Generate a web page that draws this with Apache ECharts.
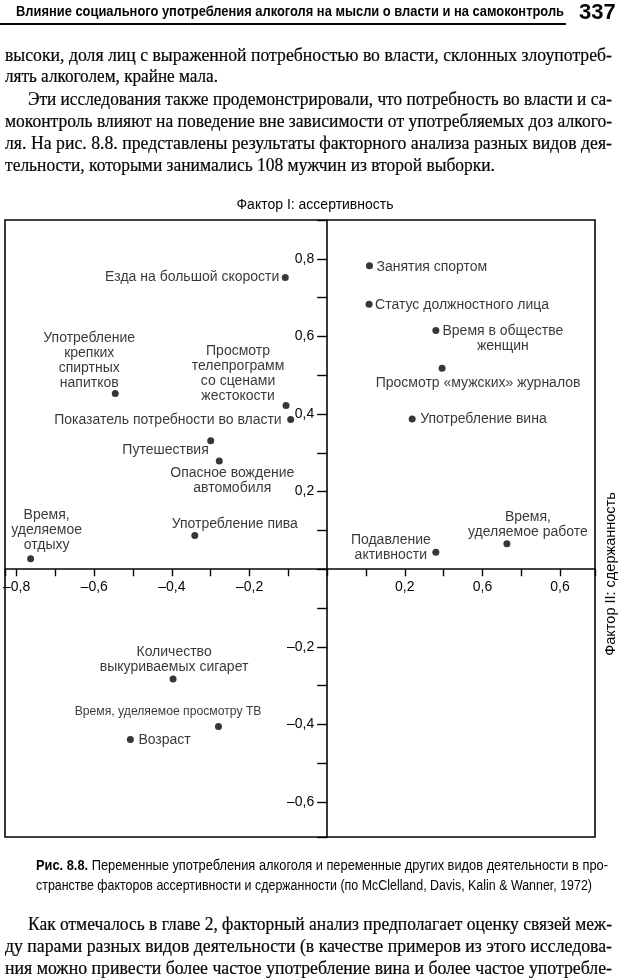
<!DOCTYPE html>
<html>
<head>
<meta charset="utf-8">
<script src="https://cdn.jsdelivr.net/npm/echarts@6/dist/echarts.min.js"></script>
<style>
html,body{margin:0;padding:0;background:#fff;}
body{width:620px;height:978px;position:relative;overflow:hidden;color:#050505;}
#chart{position:absolute;left:0;top:0;width:620px;height:978px;}
.ln{position:absolute;white-space:nowrap;}
.serif{font-family:"Liberation Serif","DejaVu Serif",serif;font-size:18px;line-height:22px;-webkit-text-stroke:0.2px #050505;}
.hdr{font-family:"Liberation Sans Narrow","Liberation Sans",sans-serif;font-size:15px;line-height:18px;font-weight:bold;}
.cap{font-family:"Liberation Sans Narrow","Liberation Sans",sans-serif;font-size:14px;line-height:17px;}
.pg{position:absolute;font-family:"Liberation Sans","Arial",sans-serif;font-weight:bold;font-size:22px;line-height:24px;}
.rule{position:absolute;background:#050505;}
</style>
</head>
<body>
<div id="chart"></div>

<div class="ln hdr" data-w="548" style="left:16px;top:2px"><span class="in">Влияние социального употребления алкоголя на мысли о власти и на самоконтроль</span></div>
<div class="pg" style="left:579px;top:0px">337</div>
<div class="rule" style="left:0;top:23px;width:566px;height:1.5px"></div>

<div class="ln serif j" data-w="607" style="left:5px;top:44px"><span class="in">высоки, доля лиц с выраженной потребностью во власти, склонных злоупотреб-</span></div>
<div class="ln serif" data-w="213" style="left:5px;top:65px"><span class="in">лять алкоголем, крайне мала.</span></div>
<div class="ln serif j" data-w="584" style="left:28px;top:88px"><span class="in">Эти исследования также продемонстрировали, что потребность во власти и са-</span></div>
<div class="ln serif j" data-w="607" style="left:5px;top:110px"><span class="in">моконтроль влияют на поведение вне зависимости от употребляемых доз алкого-</span></div>
<div class="ln serif j" data-w="607" style="left:5px;top:132px"><span class="in">ля. На рис. 8.8. представлены результаты факторного анализа разных видов дея-</span></div>
<div class="ln serif" data-w="490" style="left:5px;top:154px"><span class="in">тельности, которыми занимались 108 мужчин из второй выборки.</span></div>

<div class="ln cap j" data-w="572" style="left:36px;top:857px"><span class="in"><b>Рис. 8.8.</b> Переменные употребления алкоголя и переменные других видов деятельности в про-</span></div>
<div class="ln cap" data-w="556" style="left:36px;top:877px"><span class="in">странстве факторов ассертивности и сдержанности (по McClelland, Davis, Kalin &amp; Wanner, 1972)</span></div>

<div class="ln serif j" data-w="584" style="left:28px;top:913px"><span class="in">Как отмечалось в главе 2, факторный анализ предполагает оценку связей меж-</span></div>
<div class="ln serif j" data-w="607" style="left:5px;top:935px"><span class="in">ду парами разных видов деятельности (в качестве примеров из этого исследова-</span></div>
<div class="ln serif j" data-w="607" style="left:5px;top:957px"><span class="in">ния можно привести более частое употребление вина и более частое употребле-</span></div>

<script>
// ---- data ----
const activityNames = [
  'Езда на большой скорости',
  'Употребление\nкрепких\nспиртных\nнапитков',
  'Просмотр\nтелепрограмм\nсо сценами\nжестокости',
  'Показатель потребности во власти',
  'Путешествия',
  'Опасное вождение\nавтомобиля',
  'Употребление пива',
  'Время,\nуделяемое\nотдыху',
  'Занятия спортом',
  'Статус должностного лица',
  'Время в обществе\nженщин',
  'Просмотр «мужских» журналов',
  'Употребление вина',
  'Подавление\nактивности',
  'Время,\nуделяемое работе',
  'Количество\nвыкуриваемых сигарет',
  'Время, уделяемое просмотру ТВ',
  'Возраст'
];
const factor2Values = [-0.108, -0.546, -0.106, -0.094, -0.300, -0.278, -0.341, -0.764,
                        0.109, 0.108, 0.280, 0.296, 0.219, 0.280, 0.463,
                       -0.397, -0.280, -0.507];
const factor1Values = [0.752, 0.453, 0.422, 0.386, 0.331, 0.279, 0.087, 0.027,
                       0.782, 0.683, 0.615, 0.518, 0.387, 0.044, 0.066,
                      -0.283, -0.405, -0.439];
const xTickValues = [-0.8, -0.6, -0.4, -0.2, 0.2, 0.4, 0.6];
const xTickLabels = ['–0,8', '–0,6', '–0,4', '–0,2', '0,2', '0,6', '0,6'];
const yTickValues = [-0.6, -0.4, -0.2, 0.2, 0.4, 0.6, 0.8];
const yTickLabels = ['–0,6', '–0,4', '–0,2', '0,2', '0,4', '0,6', '0,8'];
const xRange = [-0.83, 0.69];
const yRange = [-0.69, 0.9];
const yAxisTitle = 'Фактор I: ассертивность';
const xAxisTitle = 'Фактор II: сдержанность';

// ---- label placement (style, not data) ----
const labelLayout = [
  {align:'right',  offset:[-6, 0]},
  {align:'center', offset:[-26, -33]},
  {align:'center', offset:[-48, -32]},
  {align:'right',  offset:[-9, 1]},
  {align:'right',  offset:[-2, 9]},
  {align:'center', offset:[13, 20]},
  {align:'center', offset:[40, -11]},
  {align:'center', offset:[16, -29]},
  {align:'left',   offset:[7, 1]},
  {align:'left',   offset:[6, 1]},
  {align:'center', offset:[67, 8]},
  {align:'center', offset:[36, 15]},
  {align:'left',   offset:[8, 0]},
  {align:'center', offset:[-45, -5]},
  {align:'center', offset:[21, -19]},
  {align:'center', offset:[1, -19]},
  {align:'right',  offset:[43, -15], fontSize: 12.2},
  {align:'left',   offset:[8, 1]}
];

const INK = '#050505';
const FONT = '"Liberation Sans", Arial, sans-serif';

function tickFormatter(vals, labels) {
  return function (v) {
    for (let i = 0; i < vals.length; i++) {
      if (Math.abs(vals[i] - v) < 1e-6) return labels[i];
    }
    return '';
  };
}

const scatterData = activityNames.map((n, i) => {
  const lab = { align: labelLayout[i].align, offset: labelLayout[i].offset };
  if (labelLayout[i].fontSize) lab.fontSize = labelLayout[i].fontSize;
  return { name: n, value: [factor2Values[i], factor1Values[i]], label: lab };
});

const chart = echarts.init(document.getElementById('chart'), null, {renderer: 'canvas'});
chart.setOption({
  animation: false,
  backgroundColor: 'transparent',
  grid: {
    left: 5, right: 25, top: 220, bottom: 141,
    show: true, borderColor: INK, borderWidth: 1.6, backgroundColor: 'transparent',
    containLabel: false, outerBoundsMode: 'none'
  },
  xAxis: {
    type: 'value', min: xRange[0], max: xRange[1], position: 'bottom', offset: 0,
    splitNumber: 15, minInterval: 0.1, maxInterval: 0.1,
    axisLine: {onZero: false, lineStyle: {color: INK, width: 1.6}},
    axisTick: {show: true, length: 7, lineStyle: {color: INK, width: 1.4}},
    axisLabel: {formatter: tickFormatter(xTickValues, xTickLabels), margin: 11,
      color: INK, fontSize: 14, fontFamily: FONT},
    splitLine: {show: false}
  },
  yAxis: {
    type: 'value', min: yRange[0], max: yRange[1], position: 'left', offset: 0,
    splitNumber: 16, minInterval: 0.1, maxInterval: 0.1,
    axisLine: {onZero: false, lineStyle: {color: INK, width: 1.6}},
    axisTick: {show: true, length: 10, lineStyle: {color: INK, width: 1.4}},
    axisLabel: {formatter: tickFormatter(yTickValues, yTickLabels), margin: 13,
      color: INK, fontSize: 14, fontFamily: FONT},
    splitLine: {show: false}
  },
  graphic: [
    {type: 'text', x: 315, y: 205, silent: true,
     style: {text: yAxisTitle, fill: INK, font: '14px ' + FONT, textAlign: 'center', textVerticalAlign: 'middle'}},
    {type: 'text', x: 611, y: 574, rotation: Math.PI / 2, silent: true,
     style: {text: xAxisTitle, fill: INK, font: '14.5px ' + FONT, textAlign: 'center', textVerticalAlign: 'middle'}}
  ],
  series: [{
    type: 'scatter',
    symbol: 'circle',
    symbolSize: 7,
    itemStyle: {color: INK},
    label: {
      show: true, position: 'inside', formatter: '{b}',
      color: INK, fontSize: 14, lineHeight: 15, fontFamily: FONT,
      verticalAlign: 'middle', textBorderWidth: 0
    },
    emphasis: {disabled: true},
    data: scatterData
  }]
});

// move both axes (line, ticks, labels) onto the zero crossing, using the library's own scales
const zero = chart.convertToPixel({gridIndex: 0}, [0, 0]);
const bottomPx = chart.convertToPixel({yAxisIndex: 0}, yRange[0]);
const leftPx = chart.convertToPixel({xAxisIndex: 0}, xRange[0]);
chart.setOption({
  xAxis: {offset: zero[1] - bottomPx},
  yAxis: {offset: leftPx - zero[0]}
});

function fitLines() {
  document.querySelectorAll('.ln').forEach(el => {
    const target = parseFloat(el.dataset.w);
    const span = el.querySelector('span.in');
    el.style.whiteSpace = 'nowrap';
    el.style.width = 'auto';
    el.style.textAlign = '';
    el.style.textAlignLast = '';
    span.style.whiteSpace = 'nowrap';
    span.style.display = 'inline-block';
    span.style.transform = '';
    const nat = span.getBoundingClientRect().width;
    if (el.classList.contains('j') && nat <= target) {
      el.style.width = target + 'px';
      el.style.whiteSpace = 'normal';
      el.style.textAlign = 'justify';
      el.style.textAlignLast = 'justify';
      span.style.whiteSpace = 'normal';
      span.style.display = 'inline';
    } else {
      span.style.transformOrigin = '0 0';
      span.style.transform = 'scaleX(' + (target / nat) + ')';
    }
  });
}
fitLines();
if (document.fonts && document.fonts.ready) document.fonts.ready.then(fitLines);
</script>
</body>
</html>
